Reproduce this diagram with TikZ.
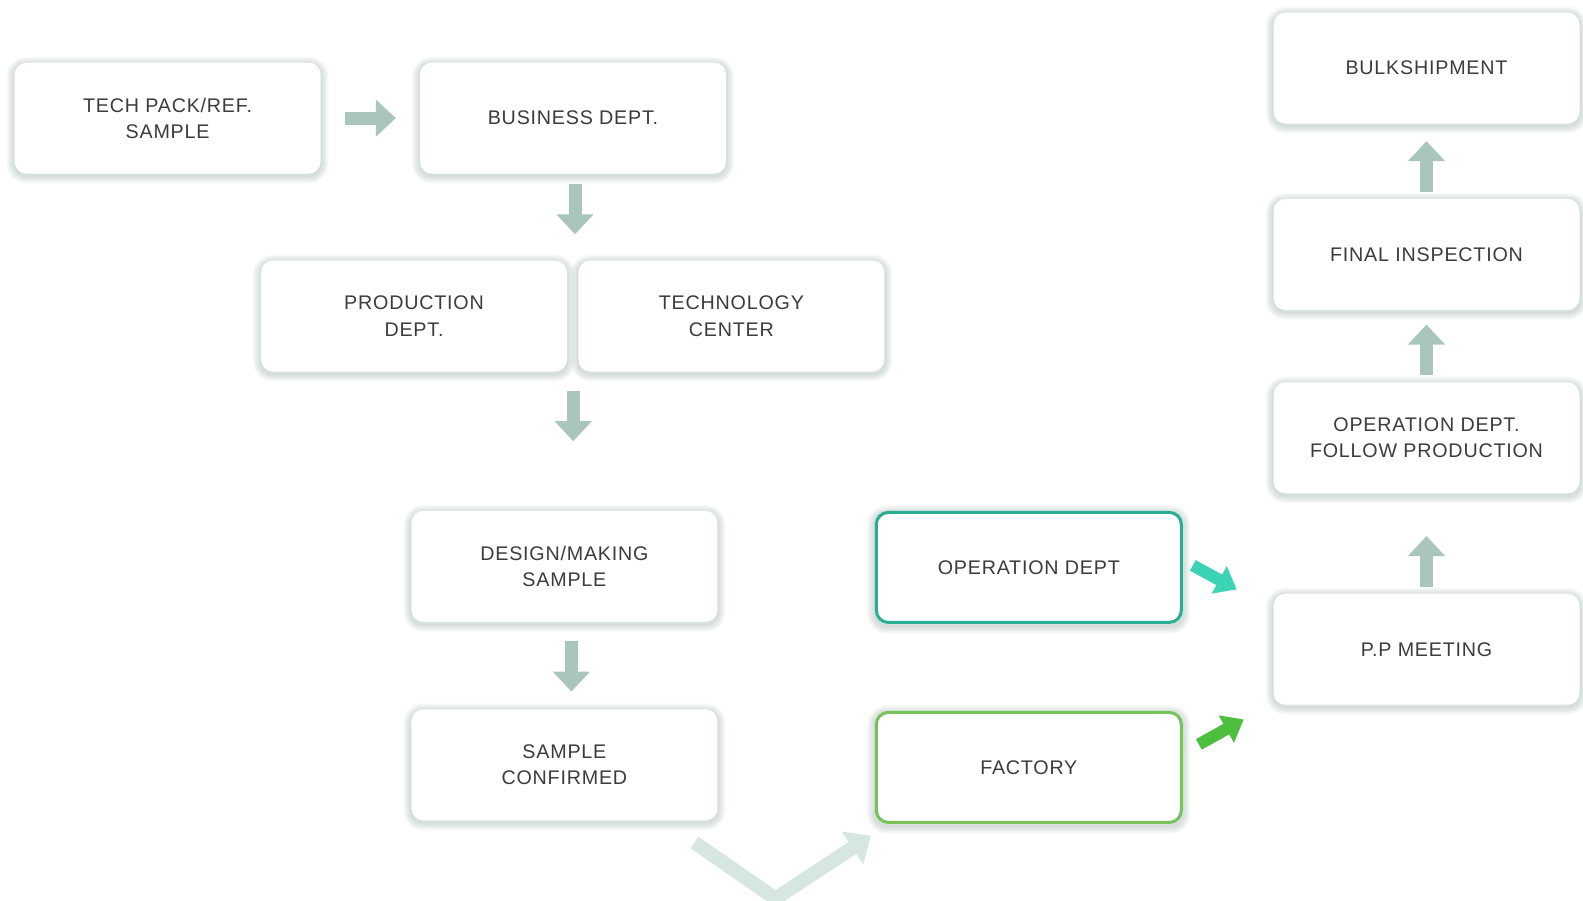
\documentclass[tikz,border=0pt]{standalone}
\usepackage{fontspec}
\setmainfont[LetterSpace=4]{Liberation Sans}
\usetikzlibrary{arrows.meta,positioning,backgrounds}

\definecolor{arrowgrey}{HTML}{A9C5BC}
\definecolor{vline}{HTML}{D6E6E1}
\definecolor{tealline}{HTML}{2AAE93}
\definecolor{tealarrow}{HTML}{3CD3B5}
\definecolor{greenline}{HTML}{78C25A}
\definecolor{greenarrow}{HTML}{4DBE3E}
\definecolor{boxtext}{HTML}{3C3C3C}
\definecolor{glow}{HTML}{8FA8A0}

\begin{document}
\begin{tikzpicture}[x=1pt,y=-1pt,node distance=99pt,
    box/.style={rectangle,rounded corners=12pt,fill=white,draw=none,
      minimum width=306pt,minimum height=111pt,align=center,text depth=-5pt,
      text=boxtext,font=\fontsize{19.7}{26.3}\selectfont},
    blockarrow/.style={draw=arrowgrey,line width=13pt,
      -{Triangle[width=36pt,length=20pt]}},
    tealarrow/.style={draw=tealarrow,line width=12pt,
      -{Triangle[width=30pt,length=20pt]}},
    greenarrow/.style={draw=greenarrow,line width=12pt,
      -{Triangle[width=30pt,length=20pt]}},
    varrow/.style={draw=vline,line width=14pt,
      -{Triangle[width=38pt,length=22pt]}}]
  \useasboundingbox (0,0) rectangle (1583,900);

  % left column
  \node[box] (tech) at (167.6,118.1) {TECH PACK/REF.\\SAMPLE};
  \node[box] (business) [right=99pt of tech] {BUSINESS DEPT.};
  \node[box] (prod) at (414,316) {PRODUCTION\\DEPT.};
  \node[box] (techc) [right=11pt of prod] {TECHNOLOGY\\CENTER};
  \node[box] (design) at (564.4,566.4) {DESIGN/MAKING\\SAMPLE};
  \node[box] (confirmed) [below=87pt of design] {SAMPLE\\CONFIRMED};

  % middle
  \node[box,draw=tealline,line width=3pt,minimum width=305pt,minimum height=110pt]
    (opdept) at (1028.8,567.4) {OPERATION DEPT};
  \node[box,draw=greenline,line width=3pt,minimum width=305pt,minimum height=110pt]
    (factory) [below=87pt of opdept] {FACTORY};

  % right column
  \node[box] (pp) at (1426.5,649.2) {P.P MEETING};
  \node[box] (follow) [above=100pt of pp] {OPERATION DEPT.\\FOLLOW PRODUCTION};
  \node[box] (final) [above=72pt of follow] {FINAL INSPECTION};
  \node[box] (bulk) [above=75pt of final] {BULKSHIPMENT};

  % soft glow behind the boxes
  \begin{scope}[on background layer]
    \fill[white] (0,0) rectangle (1583,900);
    \foreach \n in {tech,business,prod,techc,design,confirmed,opdept,factory,
                    pp,follow,final,bulk}
      \foreach \i in {1,...,7}
        \draw[glow,opacity=0.06,line width=2.2*\i pt,rounded corners=12pt]
          ([yshift=-2pt]\n.south west) rectangle ([yshift=-2pt]\n.north east);
  \end{scope}

  \draw[blockarrow] ([xshift=24pt]tech.east) -- ([xshift=-24pt]business.west);
  \draw[blockarrow] ([shift={(2pt,-10pt)}]business.south) -- ++(0,50.5);
  \draw[blockarrow] ([shift={(6pt,-19pt)}]prod.south east) -- ++(0,50.5);
  \draw[blockarrow] ([shift={(7pt,-19pt)}]design.south) -- ++(0,50.5);
  \draw[blockarrow] ([yshift=7pt]pp.north) -- ++(0,-50.5);
  \draw[blockarrow] ([yshift=7pt]follow.north) -- ++(0,-50.5);
  \draw[blockarrow] ([yshift=7pt]final.north) -- ++(0,-50.5);

  \draw[tealarrow] ([shift={(10pt,2pt)}]opdept.east) -- ++(44,24);
  \draw[greenarrow] ([shift={(16pt,23pt)}]factory.east) -- ++(45,-25);
  \draw[varrow,line join=miter] ([shift={(130pt,-22pt)}]confirmed.south)
    -- ++(81,56) -- ([shift={(-4pt,-12pt)}]factory.south west);
\end{tikzpicture}
\end{document}
